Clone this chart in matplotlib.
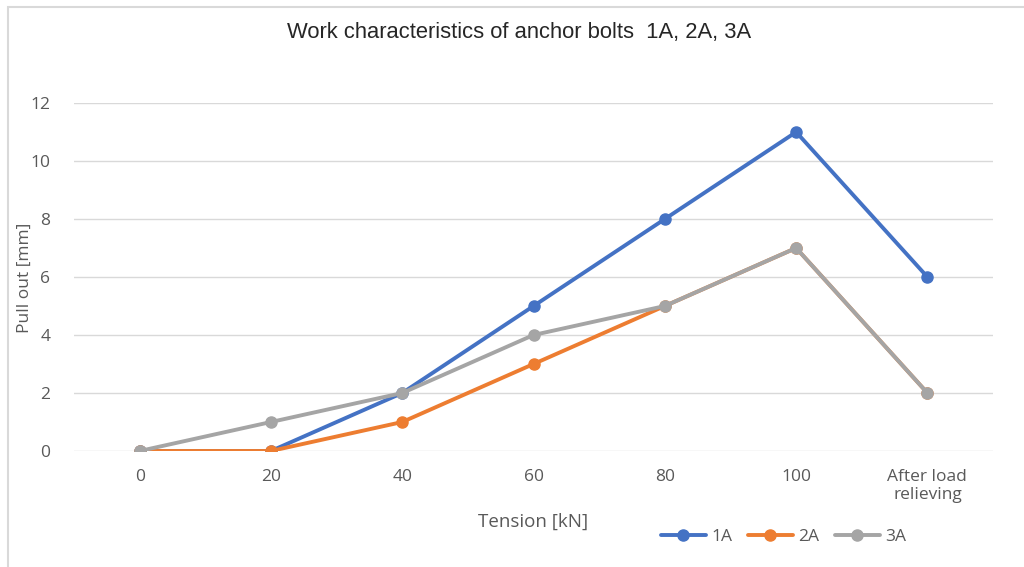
import matplotlib.pyplot as plt
from matplotlib.patches import Rectangle

categories = ["0", "20", "40", "60", "80", "100", "After load\nrelieving"]
series_1a = [0, 0, 2, 5, 8, 11, 6]
series_2a = [0, 0, 1, 3, 5, 7, 2]
series_3a = [0, 1, 2, 4, 5, 7, 2]

colors = {"1A": "#4472C4", "2A": "#ED7D31", "3A": "#A5A5A5"}
text_color = "#595959"

fig = plt.figure(figsize=(10.24, 5.67), dpi=100)
ax = fig.add_axes([0.0723, 0.2046, 0.8975, 0.6137])

# chart border, like an office chart frame
fig.patches.append(Rectangle((0.008, -0.01), 1.2, 0.998, transform=fig.transFigure,
                             fill=False, edgecolor="#D9D9D9", linewidth=1.5))

x = range(len(categories))
for name, vals in [("1A", series_1a), ("2A", series_2a), ("3A", series_3a)]:
    ax.plot(x, vals, color=colors[name], lw=2.8, marker="o", markersize=8,
            label=name, solid_capstyle="round")

ax.set_xlim(-0.5, len(categories) - 0.5)
ax.set_ylim(0, 12)
ax.set_yticks(range(0, 13, 2))
ax.set_xticks(list(x))
ax.set_xticklabels(categories, linespacing=1.15)
ax.grid(axis="y", color="#D9D9D9", lw=1)
ax.set_axisbelow(True)
for s in ax.spines.values():
    s.set_visible(False)
ax.tick_params(length=0, labelsize=12.5, labelcolor=text_color)
ax.tick_params(axis="x", pad=13)
ax.tick_params(axis="y", pad=17)
for t in ax.get_xticklabels() + ax.get_yticklabels():
    t.set_family("Open Sans")

fig.text(0.507, 0.943, "Work characteristics of anchor bolts  1A, 2A, 3A",
         ha="center", va="center", fontsize=15.8, color="#262626",
         family="Liberation Sans")
fig.text(0.024, 0.51, "Pull out [mm]", ha="center", va="center", rotation=90,
         fontsize=12.5, color=text_color, family="Open Sans")
fig.text(0.521, 0.079, "Tension [kN]", ha="center", va="center", fontsize=13.5,
         color=text_color, family="Open Sans")

leg = fig.legend(loc="center", bbox_to_anchor=(0.765, 0.053), ncol=3, frameon=False,
                 handlelength=2.6, columnspacing=0.9, handletextpad=0.3,
                 prop={"family": "Open Sans", "size": 12.5})
for t in leg.get_texts():
    t.set_color(text_color)

fig.savefig("out.png", dpi=100)
